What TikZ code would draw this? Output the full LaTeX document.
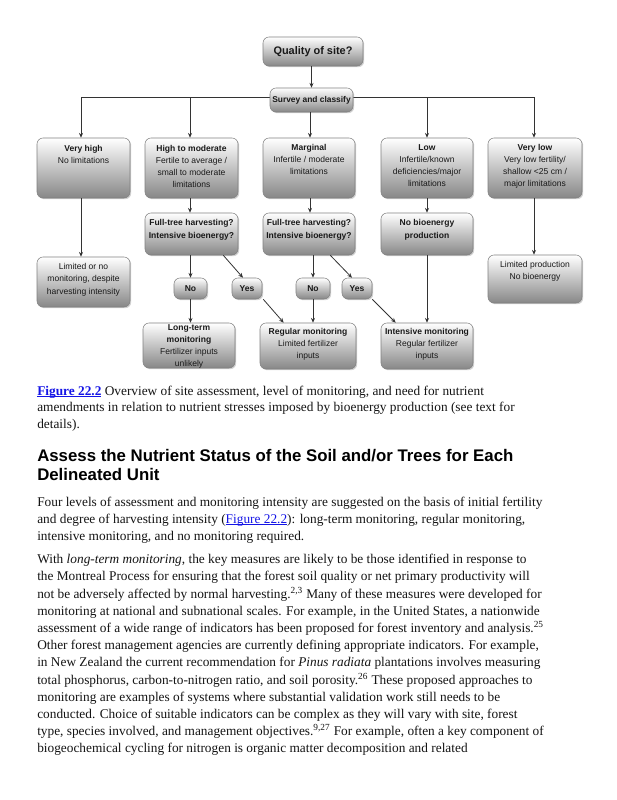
\documentclass[tikz,border=0pt]{standalone}
\usepackage{fontspec}
\setmainfont{Liberation Serif}
\setsansfont{Liberation Sans}
\usetikzlibrary{arrows.meta,shadows}
\definecolor{linkblue}{RGB}{20,20,230}
\newcommand{\ulnk}[1]{{\color{linkblue}\setbox0\hbox{#1}\rlap{\rule[-1.3pt]{\wd0}{0.55pt}}\box0}}
\begin{document}
\begin{tikzpicture}[x=0.75pt,y=-0.75pt,
  box/.style={draw=black!50, rounded corners=4.5pt, top color=white, bottom color=black!47,
    drop shadow={shadow xshift=0.9pt,shadow yshift=-0.9pt,opacity=0.35}, inner sep=0pt},
  bxsize/.style 2 args={minimum width=#1*0.75pt, minimum height=#2*0.75pt},
  lbl/.style={font=\sffamily\fontsize{6.4}{9}\selectfont, align=center, inner sep=0pt, text=black!90},
  arr/.style={-{Stealth[length=3.6pt,width=3pt]}, line width=0.6pt, draw=black!80},
  ln/.style={line width=0.6pt, draw=black!80},
  para/.style={anchor=north west, align=left, inner sep=0pt, text=black!92,
    font=\fontsize{10}{12.9}\selectfont},
]
\useasboundingbox[fill=white] (0,0) rectangle (617,800);

% bus coordinates
\coordinate (b1) at (81,97);
\coordinate (b2) at (190,97);
\coordinate (b3) at (310,97);
\coordinate (b4) at (427,97);
\coordinate (b5) at (534,97);
\draw[ln] (b1) -- (b5);

% boxes
\node[box, bxsize={100}{29}] (q) at (313,51.5) {};
\node[box, bxsize={83}{24}] (s) at (311.5,100) {};
\node[box, bxsize={93}{60}] (vh) at (83.5,168) {};
\node[box, bxsize={93}{60}] (hm) at (191.5,168) {};
\node[box, bxsize={92}{60}] (mg) at (309,168) {};
\node[box, bxsize={92}{60}] (lo) at (427,168) {};
\node[box, bxsize={94}{60}] (vl) at (535,168) {};
\node[box, bxsize={93}{42}] (ft1) at (191.5,234) {};
\node[box, bxsize={92}{42}] (ft2) at (309,234) {};
\node[box, bxsize={92}{42}] (nb) at (427,234) {};
\node[box, bxsize={93}{50}] (lim) at (83.5,282) {};
\node[box, bxsize={94}{48}] (lp) at (535,279) {};
\node[box, bxsize={33}{21}] (no1) at (190.5,288.5) {};
\node[box, bxsize={30}{21}] (yes1) at (247,288.5) {};
\node[box, bxsize={34}{21}] (no2) at (313,288.5) {};
\node[box, bxsize={30}{21}] (yes2) at (357,288.5) {};
\node[box, bxsize={92}{45}] (lt) at (189,345.5) {};
\node[box, bxsize={96}{46}] (rm) at (308,346) {};
\node[box, bxsize={92}{46}] (im) at (427,346) {};

% labels
\node[lbl, font=\sffamily\bfseries\fontsize{8.2}{10}\selectfont] (qt) at (q) {Quality of site?};
\node[lbl, font=\sffamily\bfseries\fontsize{6.3}{8}\selectfont] (st) at (s) {Survey and classify};
\node[lbl, anchor=north] (vht) at (83.5,145) {\textbf{Very high}\\No limitations};
\node[lbl, anchor=north] (hmt) at (191.5,145.5) {\textbf{High to moderate}\\Fertile to average /\\small to moderate\\limitations};
\node[lbl, anchor=north] (mgt) at (309,144) {\textbf{Marginal}\\Infertile / moderate\\limitations};
\node[lbl, anchor=north] (lot) at (427,144) {\textbf{Low}\\Infertile/known\\deficiencies/major\\limitations};
\node[lbl, anchor=north] (vlt) at (535,144) {\textbf{Very low}\\Very low fertility/\\shallow <25 cm /\\major limitations};
\node[lbl, anchor=north, font=\sffamily\bfseries\fontsize{6.4}{9.75}\selectfont] (ft1t) at (191.5,219) {Full-tree harvesting?\\Intensive bioenergy?};
\node[lbl, anchor=north, font=\sffamily\bfseries\fontsize{6.4}{9.75}\selectfont] (ft2t) at (309,219) {Full-tree harvesting?\\Intensive bioenergy?};
\node[lbl, anchor=north, font=\sffamily\bfseries\fontsize{6.4}{9.75}\selectfont] (nbt) at (427,219) {No bioenergy\\production};
\node[lbl, anchor=north, font=\sffamily\fontsize{6.4}{9.4}\selectfont] (limt) at (83.5,263) {Limited or no\\monitoring, despite\\harvesting intensity};
\node[lbl, anchor=north] (lpt) at (535,261.5) {Limited production\\No bioenergy};
\node[lbl, font=\sffamily\bfseries\fontsize{6.4}{8}\selectfont] (no1t) at (no1) {No};
\node[lbl, font=\sffamily\bfseries\fontsize{6.4}{8}\selectfont] (yes1t) at (yes1) {Yes};
\node[lbl, font=\sffamily\bfseries\fontsize{6.4}{8}\selectfont] (no2t) at (no2) {No};
\node[lbl, font=\sffamily\bfseries\fontsize{6.4}{8}\selectfont] (yes2t) at (yes2) {Yes};
\node[lbl, anchor=north] (ltt) at (189,324.5) {\textbf{Long-term}\\\textbf{monitoring}\\Fertilizer inputs\\unlikely};
\node[lbl, anchor=north] (rmt) at (308,328.5) {\textbf{Regular monitoring}\\Limited fertilizer\\inputs};
\node[lbl, anchor=north] (imt) at (427,328.5) {\textbf{Intensive monitoring}\\Regular fertilizer\\inputs};

% connectors
\draw[arr] (q.south -| s.north) -- (s.north);
\draw[arr] (b1) -- (b1 |- vh.north);
\draw[arr] (b2) -- (b2 |- hm.north);
\draw[arr] (b3 |- s.south) -- (b3 |- mg.north);
\draw[arr] (b4) -- (b4 |- lo.north);
\draw[arr] (b5) -- (b5 |- vl.north);
\draw[arr] (b1 |- vh.south) -- (b1 |- lim.north);
\draw[arr] (b5 |- vl.south) -- (b5 |- lp.north);
\draw[arr] (hm.south -| b2) -- (ft1.north -| b2);
\draw[arr] (mg.south -| b3) -- (ft2.north -| b3);
\draw[arr] (lo.south) -- (nb.north);
\draw[arr] (ft1.south -| no1.north) -- (no1.north);
\draw[arr] ([xshift=-11.25pt]ft1.south east) -- ([xshift=-3pt]yes1.north);
\draw[arr] (ft2.south -| no2.north) -- (no2.north);
\draw[arr] ([xshift=-18.75pt]ft2.south east) -- ([xshift=-3.75pt]yes2.north);
\draw[arr] (no1.south) -- (no1.south |- lt.north);
\draw[arr] ([xshift=0.75pt]yes1.south east) -- ([xshift=18pt]rm.north west);
\draw[arr] (no2.south) -- (no2.south |- rm.north);
\draw[arr] (yes2.south east) -- ([xshift=11.25pt]im.north west);
\draw[arr] (nb.south) -- (im.north);

% caption and text
\node[para, font=\fontsize{10}{12.4}\selectfont] (cap) at (37,385.5) {\ulnk{\textbf{Figure 22.2}} Overview of site assessment, level of monitoring, and need for nutrient\\
amendments in relation to nutrient stresses imposed by bioenergy production (see text for\\
details).};
\node[para, font=\sffamily\bfseries\fontsize{12.6}{14.25}\selectfont, text=black] (head) at (37,449) {Assess the Nutrient Status of the Soil and/or Trees for Each\\Delineated Unit};
\node[para] (p1) at (37,496.5) {Four levels of assessment and monitoring intensity are suggested on the basis of initial fertility\\
and degree of harvesting intensity (\ulnk{Figure 22.2}): long-term monitoring, regular monitoring,\\
intensive monitoring, and no monitoring required.};
\node[para] (p2) at (37,554) {With \textit{long-term monitoring}, the key measures are likely to be those identified in response to\\
the Montreal Process for ensuring that the forest soil quality or net primary productivity will\\
not be adversely affected by normal harvesting.\textsuperscript{2,3} Many of these measures were developed for\\
monitoring at national and subnational scales. For example, in the United States, a nationwide\\
assessment of a wide range of indicators has been proposed for forest inventory and analysis.\textsuperscript{25}\\
Other forest management agencies are currently defining appropriate indicators. For example,\\
in New Zealand the current recommendation for \textit{Pinus radiata} plantations involves measuring\\
total phosphorus, carbon-to-nitrogen ratio, and soil porosity.\textsuperscript{26} These proposed approaches to\\
monitoring are examples of systems where substantial validation work still needs to be\\
conducted. Choice of suitable indicators can be complex as they will vary with site, forest\\
type, species involved, and management objectives.\textsuperscript{9,27} For example, often a key component of\\
biogeochemical cycling for nitrogen is organic matter decomposition and related};
\end{tikzpicture}
\end{document}
